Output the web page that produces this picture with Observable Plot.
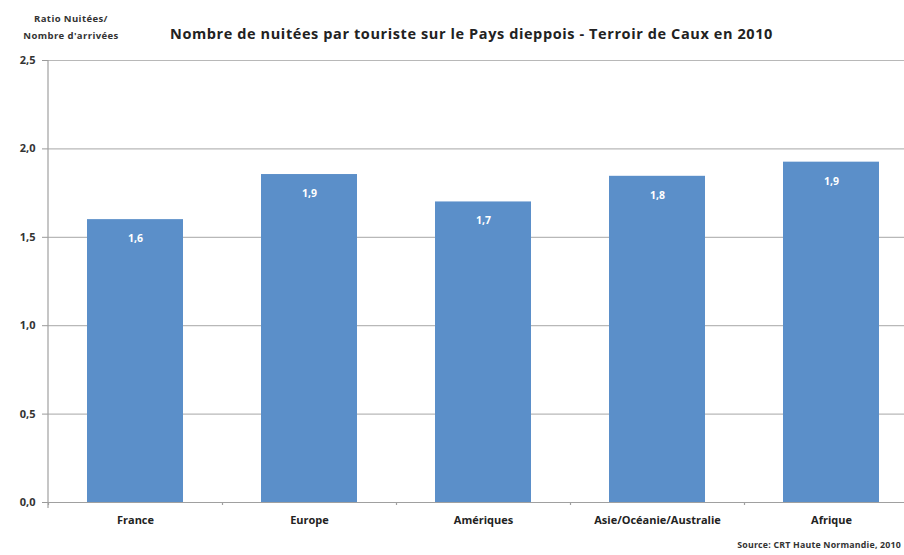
<!DOCTYPE html>
<html><head><meta charset="utf-8">
<script src="https://cdn.jsdelivr.net/npm/d3@7"></script>
<script src="https://cdn.jsdelivr.net/npm/@observablehq/plot@0.6"></script>
<style>
html,body{margin:0;padding:0;background:#fff;overflow:hidden;width:904px;height:555px}
#wrap{position:relative;width:904px;height:555px;font-family:"Open Sans",sans-serif}
.ann{position:absolute;font-weight:bold;color:#222;white-space:nowrap}
</style></head><body>
<div id="wrap">
<div class="ann" style="left:14px;top:10px;width:114px;text-align:center;font-size:9.5px;line-height:17px;color:#333;letter-spacing:0.4px">Ratio Nuitées/<br>Nombre d'arrivées</div>
<div class="ann" style="left:170px;top:24px;font-size:14.5px;letter-spacing:0.6px">Nombre de nuitées par touriste sur le Pays dieppois - Terroir de Caux en 2010</div>
<div class="ann" style="right:3px;top:539px;font-size:8.8px;color:#333;letter-spacing:0.2px">Source: CRT Haute Normandie, 2010</div>
</div>
<script>
const categories = ["France","Europe","Amériques","Asie/Océanie/Australie","Afrique"];
const values = [1.60, 1.855, 1.70, 1.845, 1.925];
const yTicks = [0, 0.5, 1.0, 1.5, 2.0, 2.5];

const data = categories.map((c,i)=>({cat:c, v:values[i]}));
const fmt = d => d.toFixed(1).replace(".", ",");

const chart = Plot.plot({
  width: 904, height: 555,
  marginTop: 60, marginBottom: 53, marginLeft: 48, marginRight: 0,
  style: {fontFamily: "'Open Sans', sans-serif", overflow: "visible"},
  x: {domain: categories, range: [48, 918], paddingInner: 0.45, paddingOuter: 0.225, label: null},
  y: {domain: [0, 2.5], ticks: yTicks, label: null},
  marks: [
    Plot.gridY(yTicks, {stroke: "#b8b8b8", strokeOpacity: 1, strokeWidth: 1.2}),
    Plot.barY(data, {x: "cat", y: "v", fill: "#5b8fc9"}),
    Plot.text(data, {x: "cat", y: "v", text: d => fmt(d.v), dy: 19, fill: "white", fontWeight: "bold", fontSize: 10.5}),
    Plot.ruleX(categories, {x: d => d, y1: 0, y2: -0.017, dx: -87, stroke: "#a0a0a0", strokeWidth: 1.2}),
    Plot.ruleY([0], {stroke: "#a0a0a0", strokeWidth: 1.2}),
    Plot.axisY({ticks: yTicks, tickFormat: fmt, tickSize: 6, tickPadding: 7, stroke: "#999", fill: "#333", fontWeight: "bold", fontSize: 11, label: null}),
    Plot.axisX({tickSize: 0, tickPadding: 14, fill: "#222", fontWeight: "bold", fontSize: 11, label: null, style: {letterSpacing: "0.35px"}})
  ]
});
document.getElementById("wrap").prepend(chart);
chart.style.position = "absolute";
chart.style.left = "0";
chart.style.top = "0";
// vertical axis line drawn through the y scale
const ys = chart.scale("y");
const line = document.createElementNS("http://www.w3.org/2000/svg","line");
line.setAttribute("x1", 48); line.setAttribute("x2", 48);
line.setAttribute("y1", ys.apply(2.5)); line.setAttribute("y2", ys.apply(0) + 6);
line.setAttribute("stroke", "#a0a0a0"); line.setAttribute("stroke-width", 1.2);
chart.appendChild(line);
</script>
</body></html>
